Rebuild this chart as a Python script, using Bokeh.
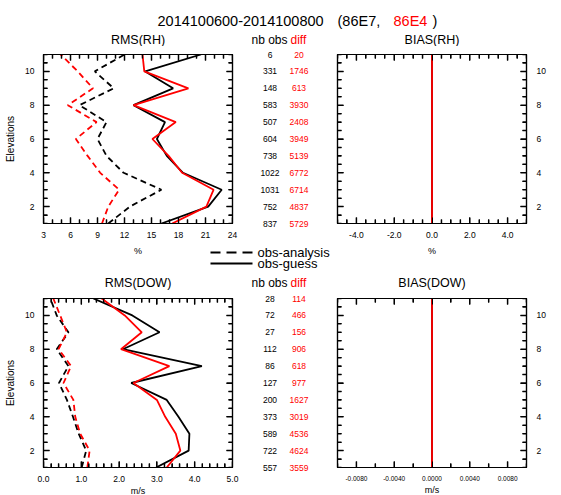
import math
from bokeh.plotting import figure
from bokeh.layouts import column, row
from bokeh.models import (Range1d, LinearAxis, SingleIntervalTicker, ColumnDataSource,
                          PrintfTickFormatter, CustomJSTickFormatter, FactorRange)
from bokeh.core.properties import value
from bokeh.embed import file_html
from bokeh.resources import INLINE

FONT = "Liberation Sans"
FONT_V = value(FONT)
BLACK = "#000000"
RED = "#ff0000"

# ---------------- data (elevation 1 .. 11) ----------------
elevations = [1, 2, 3, 4, 5, 6, 7, 8, 9, 10, 11]

# RMS(RH) in %
rms_rh_guess_86E7 = [16.1, 21.3, 22.8, 18.5, 16.7, 15.6, 16.5, 13.0, 17.4, 14.3, 20.5]
rms_rh_guess_86E4 = [17.3, 21.1, 21.9, 18.4, 16.9, 15.1, 17.7, 13.0, 19.1, 14.2, 14.0]
rms_rh_anal_86E7 = [10.2, 12.6, 16.1, 11.9, 10.0, 9.0, 10.0, 7.0, 10.8, 8.7, 12.0]
rms_rh_anal_86E4 = [9.5, 10.2, 11.4, 9.3, 7.9, 6.6, 8.9, 5.7, 8.5, 6.8, 4.9]

# BIAS(RH) in %
bias_rh_guess_86E7 = [0.0, 0.0, 0.0, 0.0, 0.0, 0.0, 0.0, 0.0, 0.0, 0.0, 0.0]
bias_rh_guess_86E4 = [0.0, 0.0, 0.0, 0.0, 0.0, 0.0, 0.0, 0.0, 0.0, 0.0, 0.0]

# RMS(DOW) in m/s
rms_dow_guess_86E7 = [2.98, 3.84, 3.86, 3.57, 3.26, 2.32, 4.19, 2.10, 3.07, 2.35, 1.32]
rms_dow_guess_86E4 = [3.26, 3.62, 3.50, 3.22, 3.00, 2.38, 3.33, 2.05, 2.60, 2.15, 1.54]
rms_dow_anal_86E7 = [1.01, 1.13, 0.93, 0.78, 0.62, 0.41, 0.66, 0.35, 0.66, 0.35, 0.18]
rms_dow_anal_86E4 = [1.16, 1.22, 0.97, 0.84, 0.79, 0.53, 0.73, 0.40, 0.62, 0.44, 0.26]

# BIAS(DOW) in m/s
bias_dow_guess_86E7 = [0.0, 0.0, 0.0, 0.0, 0.0, 0.0, 0.0, 0.0, 0.0, 0.0, 0.0]
bias_dow_guess_86E4 = [0.0, 0.0, 0.0, 0.0, 0.0, 0.0, 0.0, 0.0, 0.0, 0.0, 0.0]

# observation counts
nobs_rh = [837, 752, 1031, 1022, 738, 604, 507, 583, 148, 331, 6]
diff_rh = [5729, 4837, 6714, 6772, 5139, 3949, 2408, 3930, 613, 1746, 20]
nobs_dow = [557, 722, 589, 373, 200, 127, 86, 112, 27, 72, 28]
diff_dow = [3559, 4624, 4536, 3019, 1627, 977, 618, 906, 156, 466, 114]

count_columns = ["nb obs", "diff"]
legend_labels = ["obs-analysis", "obs-guess"]

FW, FH = 189, 169          # frame size of each panel, px
MAJ, MIN = 6, 4            # inward tick lengths, px


def base_figure(fw, fh, left, right, top, bottom, x_range, y_range):
    p = figure(frame_width=fw, frame_height=fh, output_backend="svg", toolbar_location=None,
               x_range=x_range, y_range=y_range, x_axis_type=None, y_axis_type=None,
               min_border=0, min_border_left=left, min_border_right=right,
               min_border_top=top, min_border_bottom=bottom)
    p.background_fill_color = None
    p.border_fill_color = None
    p.outline_line_color = None
    return p


def style_axis(ax, font_size="8.5px", standoff=8, show_labels=True):
    ax.major_tick_in = MAJ
    ax.major_tick_out = 0
    ax.minor_tick_in = MIN
    ax.minor_tick_out = 0
    ax.major_tick_line_color = BLACK
    ax.minor_tick_line_color = BLACK
    ax.axis_line_color = BLACK
    ax.axis_line_width = 1.2
    ax.major_label_text_font = FONT
    ax.major_label_text_color = BLACK
    ax.axis_label_text_font = FONT
    ax.axis_label_text_font_style = "normal"
    ax.axis_label_text_color = BLACK
    if show_labels:
        ax.major_label_text_font_size = font_size
        ax.major_label_standoff = standoff
    else:
        ax.formatter = CustomJSTickFormatter(code="return ''")
        ax.major_label_text_font_size = "0px"
        ax.major_label_standoff = 0
    return ax


def tick_positions(lo, hi, interval, n_minor):
    step = interval / n_minor
    k0 = math.ceil(lo / step - 1e-9)
    k1 = math.floor(hi / step + 1e-9)
    major = [round(k * step, 10) for k in range(k0, k1 + 1) if k % n_minor == 0]
    minor = [round(k * step, 10) for k in range(k0, k1 + 1) if k % n_minor != 0]
    return major, minor


def inward_ticks(p, xr, yr, x_int, x_minor, y_int, y_minor):
    """NCL-style tick marks pointing into the frame on all four sides."""
    dx = (xr.end - xr.start) / FW
    dy = (yr.end - yr.start) / FH
    xmaj, xmin = tick_positions(xr.start, xr.end, x_int, x_minor)
    ymaj, ymin = tick_positions(yr.start, yr.end, y_int, y_minor)
    x0, y0, x1, y1 = [], [], [], []
    for vals, ln in ((xmaj, MAJ), (xmin, MIN)):
        for v in vals:
            x0 += [v, v]
            x1 += [v, v]
            y0 += [yr.start, yr.end - ln * dy]
            y1 += [yr.start + ln * dy, yr.end]
    for vals, ln in ((ymaj, MAJ), (ymin, MIN)):
        for v in vals:
            y0 += [v, v]
            y1 += [v, v]
            x0 += [xr.start, xr.end - ln * dx]
            x1 += [xr.start + ln * dx, xr.end]
    src = ColumnDataSource(dict(x0=x0, y0=y0, x1=x1, y1=y1))
    p.segment(x0="x0", y0="y0", x1="x1", y1="y1", source=src,
              line_color=BLACK, line_width=1.5)


def panel(left, right, top, bottom, x_range, x_interval, x_minor, x_fmt, x_font,
          label_left, x_label=None):
    y_range = Range1d(1, 11)
    p = base_figure(FW, FH, left, right, top, bottom, x_range, y_range)
    p.outline_line_color = BLACK
    p.outline_line_width = 1.2

    def xt():
        return SingleIntervalTicker(interval=x_interval, num_minor_ticks=x_minor)

    def yt():
        return SingleIntervalTicker(interval=2, num_minor_ticks=4)

    below = style_axis(LinearAxis(ticker=xt(), formatter=PrintfTickFormatter(format=x_fmt)),
                       font_size=x_font)
    if x_label:
        below.axis_label = x_label
        below.axis_label_text_font_size = "9px"
        below.axis_label_standoff = 1
    above = style_axis(LinearAxis(ticker=xt()), show_labels=False)
    left_ax = style_axis(LinearAxis(ticker=yt(), formatter=PrintfTickFormatter(format="%d")),
                         standoff=9, show_labels=label_left)
    right_ax = style_axis(LinearAxis(ticker=yt(), formatter=PrintfTickFormatter(format="%d")),
                          standoff=10, show_labels=not label_left)
    if label_left:
        left_ax.axis_label = "Elevations"
        left_ax.axis_label_text_font_size = "10px"
        left_ax.axis_label_standoff = 6
    p.add_layout(below, "below")
    p.add_layout(above, "above")
    p.add_layout(left_ax, "left")
    p.add_layout(right_ax, "right")
    inward_ticks(p, x_range, y_range, x_interval, x_minor, 2, 4)
    return p


def draw_lines(p, anal_e7, guess_e7, anal_e4, guess_e4):
    if anal_e7 is not None:
        p.line(anal_e7, elevations, line_color=BLACK, line_width=1.8, line_dash="6 4")
    p.line(guess_e7, elevations, line_color=BLACK, line_width=1.8)
    if anal_e4 is not None:
        p.line(anal_e4, elevations, line_color=RED, line_width=1.8, line_dash="6 4")
    p.line(guess_e4, elevations, line_color=RED, line_width=1.8)


def counts(top, bottom, nobs, diff):
    p = base_figure(58, FH, 10, 7, top, bottom, FactorRange(*count_columns), Range1d(1, 11))
    p.text(x=[count_columns[0]] * len(elevations), y=elevations, text=[str(v) for v in nobs],
           text_align="center", text_baseline="middle", text_font=FONT_V,
           text_font_size="8.5px", text_color=BLACK, level="overlay")
    p.text(x=[count_columns[1]] * len(elevations), y=elevations, text=[str(v) for v in diff],
           text_align="center", text_baseline="middle", text_font=FONT_V,
           text_font_size="8.5px", text_color=RED, level="overlay")
    return p


def page_figure(y0, y1):
    # strip of the page, in page pixel coordinates (y grows downwards)
    return base_figure(561, y1 - y0, 0, 0, 0, 0, Range1d(0, 561), Range1d(y1, y0))


def txt(p, x, y, s, color=BLACK, size="12.5px", align="left"):
    p.text(x=[x], y=[y], text=[s], text_align=align, text_baseline="middle",
           text_font=FONT_V, text_font_size=size, text_color=color)


# ---------------- header strip (0 .. 46) ----------------
head = page_figure(0, 46)
txt(head, 157, 20, "2014100600-2014100800", size="14.5px")
txt(head, 337, 20, "(86E7,", size="14.5px")
txt(head, 393, 20, "86E4", color=RED, size="14.5px")
txt(head, 432, 20, ")", size="14.5px")
txt(head, 137.5, 39, "RMS(RH)", align="center")
txt(head, 431.5, 39, "BIAS(RH)", align="center")
txt(head, 251, 39, "nb obs", size="12px")
txt(head, 290, 39, "diff", color=RED, size="12px")

# ---------------- top row (46 .. 244) ----------------
tl = panel(43, 13, 8, 21, Range1d(3, 24), 3, 3, "%d", "8.5px", True)
draw_lines(tl, rms_rh_anal_86E7, rms_rh_guess_86E7, rms_rh_anal_86E4, rms_rh_guess_86E4)
mt = counts(8, 21, nobs_rh, diff_rh)
tr = panel(17, 35, 8, 21, Range1d(-5, 5), 2, 4, "%.1f", "8.5px", False)
draw_lines(tr, None, bias_rh_guess_86E7, None, bias_rh_guess_86E4)

# ---------------- middle strip (244 .. 292): units, legend, titles ----------------
mid = page_figure(244, 292)
txt(mid, 137.5, 250, "%", size="9px", align="center")
txt(mid, 431.5, 250, "%", size="9px", align="center")
# legend key
mid.segment(x0=[210], y0=[252], x1=[252], y1=[252], line_color=BLACK, line_width=2,
            line_dash="10 6")
mid.segment(x0=[210], y0=[263], x1=[252], y1=[263], line_color=BLACK, line_width=2)
txt(mid, 257, 252, legend_labels[0], size="13px")
txt(mid, 257, 263, legend_labels[1], size="13px")
txt(mid, 137.5, 282, "RMS(DOW)", align="center")
txt(mid, 431.5, 282, "BIAS(DOW)", align="center")
txt(mid, 251, 282, "nb obs", size="12px")
txt(mid, 290, 282, "diff", color=RED, size="12px")

# ---------------- bottom row (292 .. 495) ----------------
bl = panel(43, 13, 6, 28, Range1d(0, 5), 1, 5, "%.1f", "8.5px", True, "m/s")
draw_lines(bl, rms_dow_anal_86E7, rms_dow_guess_86E7, rms_dow_anal_86E4, rms_dow_guess_86E4)
mb = counts(6, 28, nobs_dow, diff_dow)
br = panel(17, 35, 6, 28, Range1d(-0.01, 0.01), 0.004, 2, "%.4f", "6.5px", False, "m/s")
draw_lines(br, None, bias_dow_guess_86E7, None, bias_dow_guess_86E4)

layout = column(head, row(tl, mt, tr), mid, row(bl, mb, br), spacing=0)

open("out.html", "w").write(file_html(layout, INLINE))
